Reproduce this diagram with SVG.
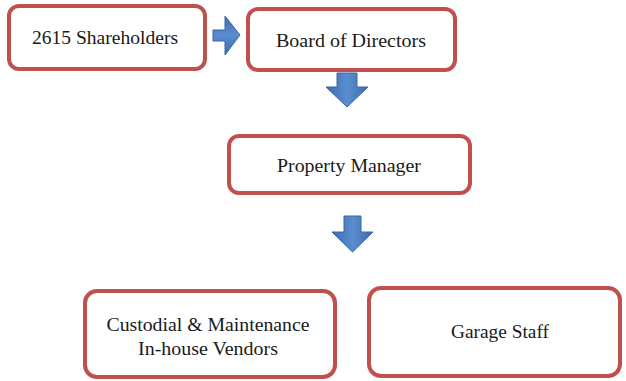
<svg xmlns="http://www.w3.org/2000/svg" width="626" height="381" viewBox="0 0 626 381">
<defs>
<linearGradient id="gh" x1="0" y1="0" x2="0" y2="1">
<stop offset="0" stop-color="#3d6cab"/><stop offset="0.5" stop-color="#5a8ed0"/><stop offset="1" stop-color="#3d6cab"/>
</linearGradient>
<linearGradient id="gv" x1="0" y1="0" x2="1" y2="0">
<stop offset="0" stop-color="#3d6cab"/><stop offset="0.5" stop-color="#5a8ed0"/><stop offset="1" stop-color="#3d6cab"/>
</linearGradient>
</defs>
<style>
.box{fill:#ffffff;stroke:#c0504d;stroke-width:4}
.lbl{font-family:'Liberation Serif','Times New Roman',serif;font-size:19px;fill:#1a1a1a;text-anchor:middle}
.arr{stroke:#3a66a0;stroke-width:1}
</style>
<rect width="626" height="381" fill="#ffffff"/>
<g id="connectors">
<path class="arr" fill="url(#gh)" d="M213,30 H225 V16 L240,35 L225,55 V41 H213 Z"/>
<path class="arr" fill="url(#gv)" d="M337,73 H357 V87 H368 L347,107 L326,87 H337 Z"/>
<path class="arr" fill="url(#gv)" d="M344,216 H361 V232 H373 L352.5,252 L332,232 H344 Z"/>
</g>
<g id="shareholders">
<rect class="box" x="9" y="6" width="196" height="63" rx="10"/>
<text class="lbl" x="105" y="44" textLength="146" lengthAdjust="spacingAndGlyphs">2615 Shareholders</text>
</g>
<g id="board">
<rect class="box" x="248" y="9" width="207" height="61" rx="10"/>
<text class="lbl" x="351" y="47" textLength="150" lengthAdjust="spacingAndGlyphs">Board of Directors</text>
</g>
<g id="property-manager">
<rect class="box" x="229" y="136" width="241" height="57" rx="10"/>
<text class="lbl" x="349" y="172" textLength="144" lengthAdjust="spacingAndGlyphs">Property Manager</text>
</g>
<g id="custodial">
<rect class="box" x="85" y="291" width="250" height="86" rx="12"/>
<text class="lbl" x="208" y="331" textLength="203" lengthAdjust="spacingAndGlyphs">Custodial &amp; Maintenance</text>
<text class="lbl" x="208" y="355" textLength="140" lengthAdjust="spacingAndGlyphs">In-house Vendors</text>
</g>
<g id="garage">
<rect class="box" x="369" y="288" width="251" height="88" rx="12"/>
<text class="lbl" x="500" y="338" textLength="98" lengthAdjust="spacingAndGlyphs">Garage Staff</text>
</g>
</svg>
